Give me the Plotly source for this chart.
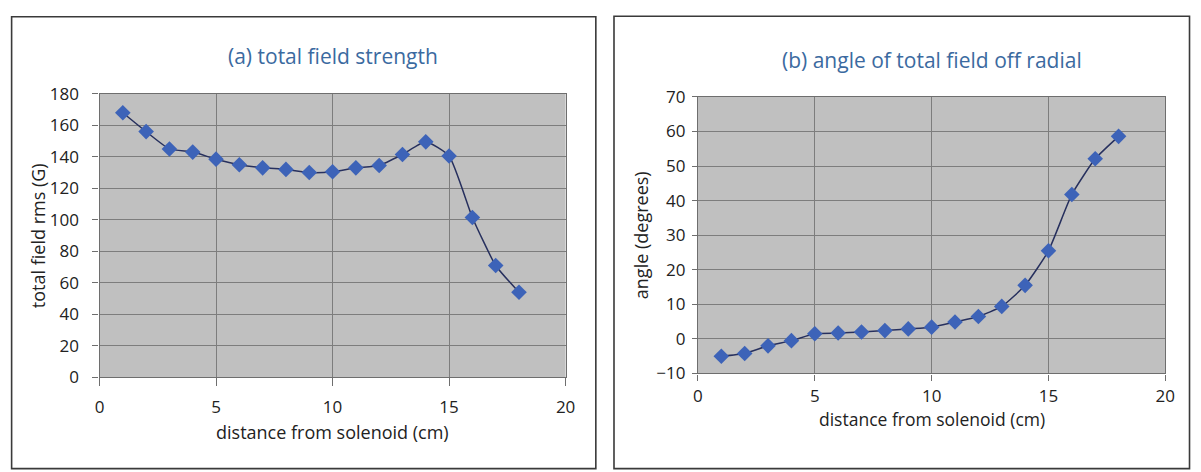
import plotly.graph_objects as go

W, H = 1201, 472

# ---- data ----
distance_cm = [1, 2, 3, 4, 5, 6, 7, 8, 9, 10, 11, 12, 13, 14, 15, 16, 17, 18]
total_field_G = [168, 156, 145, 143, 138.5, 135, 133, 132, 130, 130.5, 133, 134.5,
                 141.5, 149.5, 140.5, 101.5, 71, 54]
angle_deg = [-5, -4.2, -2, -0.5, 1.5, 1.7, 2, 2.4, 2.9, 3.4, 4.9, 6.5, 9.4, 15.5,
             25.5, 41.8, 52.1, 58.6]

title_a = "(a) total field strength"
title_b = "(b) angle of total field off radial"
xlabel = "distance from solenoid (cm)"
ylabel_a = "total field rms (G)"
ylabel_b = "angle (degrees)"

FONT = "Open Sans"
TITLE_COLOR = "#3b6aa0"
TEXT_COLOR = "#222222"
LINE_COLOR = "#27305e"
MARKER_COLOR = "#3d63b8"
PLOT_BG = "#c0c0c0"
GRID = "#7d7d7d"


def px_x(p):
    return p / W


def px_y(p):
    return 1 - p / H


fig = go.Figure()

fig.add_trace(go.Scatter(
    x=distance_cm, y=total_field_G, mode="lines+markers",
    line=dict(color=LINE_COLOR, width=1.5, shape="spline", smoothing=0.5),
    marker=dict(symbol="diamond", size=12, color=MARKER_COLOR),
    xaxis="x", yaxis="y", showlegend=False, hoverinfo="x+y"))

fig.add_trace(go.Scatter(
    x=distance_cm, y=angle_deg, mode="lines+markers",
    line=dict(color=LINE_COLOR, width=1.5, shape="spline", smoothing=0.5),
    marker=dict(symbol="diamond", size=12, color=MARKER_COLOR),
    xaxis="x2", yaxis="y2", showlegend=False, hoverinfo="x+y"))

axis_common = dict(
    showgrid=True, gridcolor=GRID, gridwidth=1,
    showline=True, linecolor="#6e6e6e", linewidth=1.2, mirror=True,
    ticks="outside", tickcolor="#6e6e6e", tickwidth=1,
    zeroline=False,
    tickfont=dict(family=FONT, size=17, color=TEXT_COLOR),
)

# panel (a) plot area
ax_l = (95.7, 567.7)
ay_l = (86, 384)
# panel (b) plot area
bx_l = (701.7, 1175)
by_l = (89.3, 380)

fig.update_layout(
    width=W, height=H,
    margin=dict(l=0, r=0, t=0, b=0),
    paper_bgcolor="white",
    plot_bgcolor=PLOT_BG,
    xaxis=dict(domain=[px_x(ax_l[0]), px_x(ax_l[1])], range=[0, 20], dtick=5,
               anchor="y", ticklen=8, ticklabelstandoff=6, **axis_common),
    yaxis=dict(domain=[px_y(ay_l[1]), px_y(ay_l[0])], range=[0, 180], dtick=20,
               anchor="x", ticklen=6, ticklabelstandoff=10, **axis_common),
    xaxis2=dict(domain=[px_x(bx_l[0]), px_x(bx_l[1])], range=[0, 20], dtick=5,
                anchor="y2", ticklen=6, ticklabelstandoff=1, **axis_common),
    yaxis2=dict(domain=[px_y(by_l[1]), px_y(by_l[0])], range=[-10, 70], dtick=10,
                anchor="x2", ticklen=5, ticklabelstandoff=3, **axis_common),
)

shapes = [
    # panel frames
    dict(type="rect", xref="paper", yref="paper",
         x0=px_x(6.7), x1=px_x(598.3), y0=px_y(480), y1=px_y(5),
         line=dict(color="#3a3a3a", width=1.6)),
    dict(type="rect", xref="paper", yref="paper",
         x0=px_x(616.7), x1=px_x(1199.5), y0=px_y(480), y1=px_y(4.5),
         line=dict(color="#3a3a3a", width=1.6)),
]
fig.update_layout(shapes=shapes)

annotations = [
    dict(text=title_a, x=px_x((ax_l[0] + ax_l[1]) / 2), y=px_y(46), xref="paper", yref="paper",
         showarrow=False, font=dict(family=FONT, size=21, color=TITLE_COLOR),
         xanchor="center", yanchor="middle"),
    dict(text=title_b, x=px_x((bx_l[0] + bx_l[1]) / 2), y=px_y(50), xref="paper", yref="paper",
         showarrow=False, font=dict(family=FONT, size=21, color=TITLE_COLOR),
         xanchor="center", yanchor="middle"),
    dict(text=xlabel, x=px_x((ax_l[0] + ax_l[1]) / 2), y=px_y(442), xref="paper", yref="paper",
         showarrow=False, font=dict(family=FONT, size=18, color=TEXT_COLOR),
         xanchor="center", yanchor="middle"),
    dict(text=xlabel, x=px_x((bx_l[0] + bx_l[1]) / 2), y=px_y(428), xref="paper", yref="paper",
         showarrow=False, font=dict(family=FONT, size=17.5, color=TEXT_COLOR),
         xanchor="center", yanchor="middle"),
    dict(text=ylabel_a, x=px_x(33), y=px_y((ay_l[0] + ay_l[1]) / 2), xref="paper", yref="paper",
         showarrow=False, textangle=-90, font=dict(family=FONT, size=18, color=TEXT_COLOR),
         xanchor="center", yanchor="middle"),
    dict(text=ylabel_b, x=px_x(644), y=px_y((by_l[0] + by_l[1]) / 2), xref="paper", yref="paper",
         showarrow=False, textangle=-90, font=dict(family=FONT, size=18, color=TEXT_COLOR),
         xanchor="center", yanchor="middle"),
]
fig.update_layout(annotations=annotations)

fig.write_html("out.html",
               config={"displayModeBar": False},
               post_script="document.body.style.margin='0px';document.body.style.overflow='hidden';")
